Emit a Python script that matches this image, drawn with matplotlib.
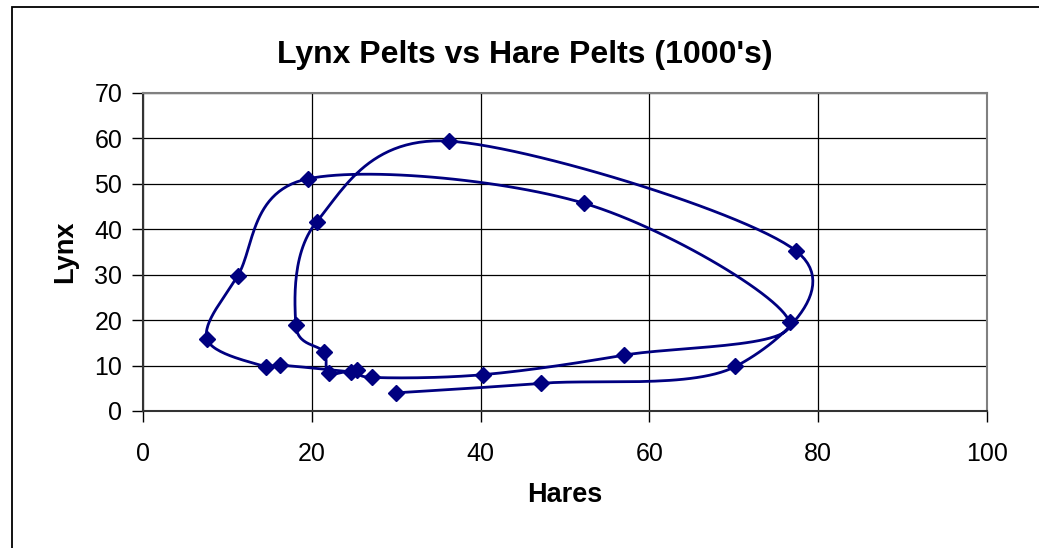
import numpy as np
import matplotlib
matplotlib.use("Agg")
import matplotlib.pyplot as plt
from matplotlib.patches import Rectangle

hares = [30, 47.2, 70.2, 77.4, 36.3, 20.6, 18.1, 21.4, 22, 25.4, 27.1,
         40.3, 57, 76.6, 52.3, 19.5, 11.2, 7.6, 14.6, 16.2, 24.7]
lynx = [4, 6.1, 9.8, 35.2, 59.4, 41.7, 19, 13, 8.3, 9.1, 7.4,
        8, 12.3, 19.5, 45.7, 51.1, 29.7, 15.8, 9.7, 10.1, 8.6]
xticks = [0, 20, 40, 60, 80, 100]
yticks = [0, 10, 20, 30, 40, 50, 60, 70]

plt.rcParams['font.family'] = ['Liberation Sans', 'DejaVu Sans']

W, H = 1039, 548
fig = plt.figure(figsize=(W / 100, H / 100), dpi=100)
ax = fig.add_axes([143 / W, 1 - 411 / H, (987 - 143) / W, (411 - 93) / H])

fig.patches.append(Rectangle((11.5 / W, -0.1), 1.2, 1 - 6.5 / H + 0.1,
                             transform=fig.transFigure, fill=False,
                             edgecolor='black', linewidth=1.3))


def smooth(x, y, n=30):
    x = np.asarray(x, float)
    y = np.asarray(y, float)
    px = np.concatenate([[x[0]], x, [x[-1]]])
    py = np.concatenate([[y[0]], y, [y[-1]]])
    ox, oy = [], []
    for i in range(len(x) - 1):
        p0 = np.array([px[i], py[i]])
        p1 = np.array([px[i + 1], py[i + 1]])
        p2 = np.array([px[i + 2], py[i + 2]])
        p3 = np.array([px[i + 3], py[i + 3]])
        c1 = p1 + (p2 - p0) / 6
        c2 = p2 - (p3 - p1) / 6
        t = np.linspace(0, 1, n)[:, None]
        b = ((1 - t) ** 3) * p1 + 3 * ((1 - t) ** 2) * t * c1 + 3 * (1 - t) * t ** 2 * c2 + t ** 3 * p2
        ox.extend(b[:, 0])
        oy.extend(b[:, 1])
    return ox, oy


sx, sy = smooth(hares, lynx)
ax.plot(sx, sy, color='#000080', linewidth=2.0, zorder=3, clip_on=False)
ax.plot(hares, lynx, linestyle='none', marker='D', markersize=8.5,
        color='#000080', zorder=4, clip_on=False)

ax.set_xlim(0, 100)
ax.set_ylim(0, 70)
ax.set_xticks(xticks)
ax.set_yticks(yticks)
ax.grid(True, color='black', linewidth=0.9)
ax.set_axisbelow(True)
for s in ['top', 'right']:
    ax.spines[s].set_color('#808080')
    ax.spines[s].set_linewidth(1.5)
for s in ['left', 'bottom']:
    ax.spines[s].set_color('#333333')
    ax.spines[s].set_linewidth(1.5)
ax.tick_params(direction='out', length=8, width=1, labelsize=18, pad=7)
ax.tick_params(axis='x', pad=14)

fig.text(525 / W, 1 - 55 / H, "Lynx Pelts vs Hare Pelts (1000's)",
         ha='center', va='center', fontsize=23, fontweight='bold')
fig.text(565 / W, 1 - 495 / H, "Hares", ha='center', va='center',
         fontsize=19.5, fontweight='bold')
fig.text(65 / W, 1 - 252 / H, "Lynx", ha='center', va='center',
         fontsize=19.5, fontweight='bold', rotation=90)

fig.savefig('out.png', dpi=100)
